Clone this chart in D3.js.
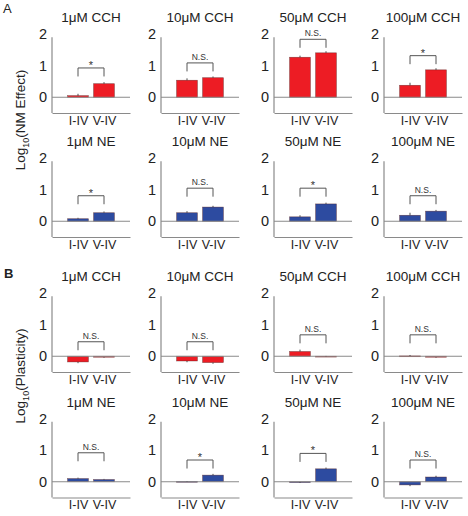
<!DOCTYPE html>
<html>
<head>
<meta charset="utf-8">
<script src="https://cdn.jsdelivr.net/npm/d3@7/dist/d3.min.js"></script>
<style>
  html, body { margin: 0; padding: 0; background: #fff; }
  text { font-family: "Liberation Sans", Arial, sans-serif; }
</style>
</head>
<body>
<svg id="chart" width="468" height="516"></svg>
<script>
// ---- data ----
const groups = ["I-IV", "V-IV"];
const concentrations = ["1\u03BCM", "10\u03BCM", "50\u03BCM", "100\u03BCM"];
const drugs = ["CCH", "NE", "CCH", "NE"];               // per row
const yTicks = [0, 1, 2];

// Row A1: NM effect, CCH
const nmCchI = [0.05, 0.54, 1.27, 0.38];
const nmCchIErr = [0.06, 0.06, 0.05, 0.08];
const nmCchV = [0.43, 0.62, 1.41, 0.87];
const nmCchVErr = [0.05, 0.04, 0.05, 0.05];
// Row A2: NM effect, NE
const nmNeI = [0.08, 0.27, 0.14, 0.19];
const nmNeIErr = [0.03, 0.05, 0.05, 0.08];
const nmNeV = [0.27, 0.45, 0.55, 0.32];
const nmNeVErr = [0.04, 0.04, 0.04, 0.04];
// Row B1: plasticity, CCH
const plCchI = [-0.18, -0.15, 0.15, 0.01];
const plCchIErr = [0.04, 0.04, 0.06, 0.03];
const plCchV = [-0.03, -0.20, 0.00, -0.03];
const plCchVErr = [0.02, 0.04, 0.01, 0.02];
// Row B2: plasticity, NE
const plNeI = [0.10, 0.01, -0.02, -0.10];
const plNeIErr = [0.03, 0.01, 0.02, 0.04];
const plNeV = [0.07, 0.21, 0.41, 0.15];
const plNeVErr = [0.02, 0.04, 0.04, 0.04];

// significance labels and bracket levels (data units)
const sigLabels = [
  ["*", "N.S.", "N.S.", "*"],
  ["*", "N.S.", "*", "N.S."],
  ["N.S.", "N.S.", "N.S.", "N.S."],
  ["N.S.", "*", "*", "N.S."]
];
const bracketLevels = [
  [0.66, 0.82, 1.57, 1.05],
  [0.54, 0.78, 0.78, 0.54],
  [0.19, 0.19, 0.41, 0.41],
  [0.65, 0.42, 0.63, 0.42]
];

const rowsData = [
  [nmCchI, nmCchIErr, nmCchV, nmCchVErr],
  [nmNeI, nmNeIErr, nmNeV, nmNeVErr],
  [plCchI, plCchIErr, plCchV, plCchVErr],
  [plNeI, plNeIErr, plNeV, plNeVErr]
];

// ---- layout ----
const colX = [52, 161, 274, 384];
const rowBottom = [113, 237, 372, 497.5];
const unit = 31.5;
const plotW = 78;
const colors = { CCH: "#ed1c24", NE: "#2d4ba0" };
const axisColor = "#8a8a8a";

const svg = d3.select("#chart");

rowsData.forEach((rd, r) => {
  const [iv, ivErr, vv, vvErr] = rd;
  concentrations.forEach((conc, c) => {
    const x0 = colX[c];
    const y = d3.scaleLinear().domain([-0.5, 2]).range([rowBottom[r], rowBottom[r] - 2.5 * unit]);
    const x = d3.scaleLinear().domain([0, 3]).range([x0, x0 + plotW]);
    const g = svg.append("g");
    const fill = colors[drugs[r]];

    // title
    g.append("text").attr("x", x(1.5)).attr("y", y(2) - 12)
      .attr("text-anchor", "middle").attr("font-size", 13.5).attr("fill", "#222")
      .text(conc + " " + drugs[r]);

    // y axis
    const yAxis = d3.axisLeft(y).tickValues(yTicks).tickFormat(d3.format("d")).tickSize(0).tickPadding(5);
    const ya = g.append("g").attr("transform", `translate(${x0},0)`).call(yAxis);
    ya.select(".domain").attr("stroke", axisColor).attr("stroke-width", 1.2)
      .attr("d", `M0,${y(2) + 3}V${y(-0.5)}`);
    ya.selectAll("text").attr("font-size", 14.5).attr("fill", "#222")
      .attr("font-family", "Liberation Sans, Arial, sans-serif");

    // bottom axis
    const xAxis = d3.axisBottom(x).tickValues([1, 2]).tickFormat((d, i) => groups[i]).tickSize(0).tickPadding(3);
    const xa = g.append("g").attr("transform", `translate(0,${y(-0.5)})`).call(xAxis);
    xa.select(".domain").attr("stroke", axisColor).attr("stroke-width", 1.2);
    xa.selectAll("text").attr("font-size", 12.5).attr("fill", "#222")
      .attr("font-family", "Liberation Sans, Arial, sans-serif");

    // bars
    const bars = [
      { k: 1, v: iv[c], e: ivErr[c] },
      { k: 2, v: vv[c], e: vvErr[c] }
    ];
    const bw = x(0.8) - x(0);
    g.selectAll("rect.bar").data(bars).enter().append("rect")
      .attr("class", "bar")
      .attr("x", d => x(d.k) - bw / 2)
      .attr("width", bw)
      .attr("y", d => Math.min(y(d.v), y(0)))
      .attr("height", d => Math.max(Math.abs(y(d.v) - y(0)), 0.8))
      .attr("fill", fill)
      .attr("stroke", "#4a1010")
      .attr("stroke-opacity", 0.6)
      .attr("stroke-width", 0.6);

    // zero line
    g.append("line").attr("x1", x(0)).attr("x2", x(3))
      .attr("y1", y(0)).attr("y2", y(0))
      .attr("stroke", axisColor).attr("stroke-width", 1.2);

    // error bars
    bars.forEach(d => {
      const yt = d.v >= 0 ? d.v + d.e : d.v - d.e;
      g.append("line").attr("x1", x(d.k)).attr("x2", x(d.k))
        .attr("y1", y(d.v)).attr("y2", y(yt))
        .attr("stroke", "#222").attr("stroke-width", 0.8);
    });

    // significance bracket
    const bl = bracketLevels[r][c];
    const bt = bl + 0.27;
    g.append("path")
      .attr("d", `M${x(1)},${y(bl)}V${y(bt)}H${x(2)}V${y(bl)}`)
      .attr("fill", "none").attr("stroke", "#555").attr("stroke-width", 1);
    const lab = sigLabels[r][c];
    g.append("text").attr("x", x(1.5)).attr("y", y(bt) - (lab === "*" ? -1 : 3))
      .attr("text-anchor", "middle")
      .attr("font-size", lab === "*" ? 11 : 8.5)
      .attr("fill", "#333")
      .text(lab);
  });
});

// y-axis labels
function yLabel(cx, cy, main) {
  const t = svg.append("text")
    .attr("transform", `translate(${cx},${cy}) rotate(-90)`)
    .attr("text-anchor", "middle").attr("font-size", 13.5).attr("fill", "#222");
  t.append("tspan").text("Log");
  t.append("tspan").attr("font-size", 9).attr("dy", 4).text("10");
  t.append("tspan").attr("dy", -4).text("(" + main + ")");
}
yLabel(25, 120, "NM Effect");
yLabel(25, 376, "Plasticity");

// panel letters
svg.append("text").attr("x", 3).attr("y", 13).attr("font-size", 13).attr("fill", "#222").text("A");
svg.append("text").attr("x", 4).attr("y", 278).attr("font-size", 13).attr("font-weight", "bold").attr("fill", "#222").text("B");
</script>
</body>
</html>
